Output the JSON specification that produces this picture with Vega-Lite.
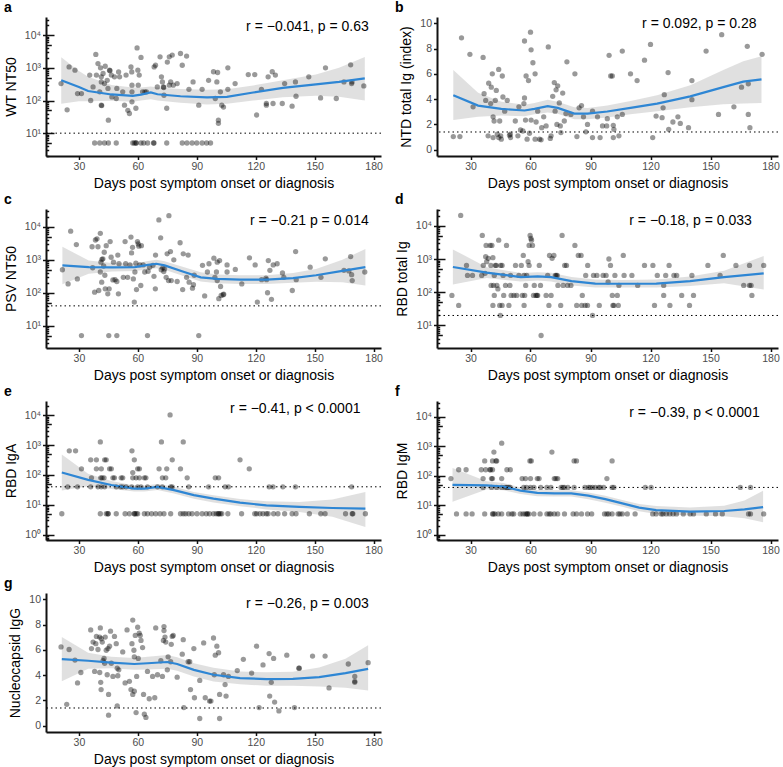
{
"$schema":"https://vega.github.io/schema/vega-lite/v6.json",
"padding":{"left":4,"top":0,"right":2,"bottom":2},
"background":"white",
"config":{
 "view":{"stroke":null},
 "font":"Liberation Sans",
 "axis":{"grid":false,"domain":true,"ticks":true,"labelFlush":false,"labelOverlap":false,"tickSize":3.5,"tickColor":"#111111","domainColor":"#111111","domainWidth":2,"tickWidth":1.5,"labelColor":"#4d4d4d","labelFontSize":10.5,"titleFontSize":14,"titleFontWeight":"normal","titleColor":"#000000","labelPadding":2,"labelFont":"Liberation Sans","titleFont":"Liberation Sans","zindex":1},
 "axisX":{"titlePadding":4},
 "axisY":{"titlePadding":6},
 "title":{"font":"Liberation Sans","fontSize":14,"fontWeight":"bold","anchor":"start","frame":"group","offset":2,"baseline":"alphabetic","color":"#000000"},
 "text":{"font":"Liberation Sans"}
},
"datasets":{
"a":[{"d":20.9,"v":330},{"d":24,"v":52},{"d":25,"v":1070},{"d":28,"v":850},{"d":29.3,"v":163},{"d":31.3,"v":163},{"d":35.5,"v":600},{"d":36,"v":100},{"d":37.2,"v":260},{"d":38.6,"v":2570},{"d":38.9,"v":600},{"d":39.7,"v":1350},{"d":40.6,"v":185},{"d":41,"v":1000},{"d":41.4,"v":370},{"d":41.4,"v":72},{"d":41.6,"v":70},{"d":41.4,"v":530},{"d":42.3,"v":670},{"d":43,"v":330},{"d":43.4,"v":1120},{"d":44.4,"v":415},{"d":44.8,"v":234},{"d":45,"v":25},{"d":45.6,"v":850},{"d":45.8,"v":820},{"d":46.5,"v":600},{"d":46.8,"v":129},{"d":48.1,"v":530},{"d":49,"v":115},{"d":49.3,"v":234},{"d":50.7,"v":530},{"d":50.2,"v":750},{"d":52.3,"v":185},{"d":53.2,"v":72},{"d":54,"v":600},{"d":54.9,"v":50},{"d":55.7,"v":40},{"d":56.5,"v":1070},{"d":56.9,"v":750},{"d":57,"v":295},{"d":57,"v":185},{"d":57,"v":91},{"d":59,"v":58},{"d":59.6,"v":4060},{"d":60,"v":850},{"d":60.2,"v":295},{"d":60.7,"v":600},{"d":61.6,"v":2080},{"d":62.4,"v":185},{"d":63.6,"v":185},{"d":64.4,"v":185},{"d":68.3,"v":1070},{"d":69,"v":1200},{"d":69.9,"v":260},{"d":71.3,"v":2180},{"d":72,"v":530},{"d":72.5,"v":370},{"d":73,"v":260},{"d":73.2,"v":250},{"d":73.3,"v":145},{"d":74.7,"v":58},{"d":75,"v":1500},{"d":76,"v":2180},{"d":76,"v":295},{"d":76.7,"v":370},{"d":77.5,"v":2450},{"d":78,"v":295},{"d":80,"v":330},{"d":81.7,"v":2750},{"d":82.6,"v":1200},{"d":84.8,"v":2300},{"d":86,"v":220},{"d":88.1,"v":370},{"d":91,"v":72},{"d":92.7,"v":220},{"d":96,"v":415},{"d":98.5,"v":760},{"d":100.2,"v":370},{"d":99.4,"v":115},{"d":100.6,"v":720},{"d":101,"v":25},{"d":101,"v":20},{"d":102,"v":185},{"d":102.7,"v":72},{"d":103.6,"v":63},{"d":105.8,"v":220},{"d":105.8,"v":1000},{"d":109.5,"v":330},{"d":116.2,"v":620},{"d":119.5,"v":620},{"d":120.4,"v":36},{"d":122.9,"v":220},{"d":125.4,"v":81},{"d":125.4,"v":72},{"d":126.3,"v":530},{"d":128.4,"v":760},{"d":128.8,"v":81},{"d":130,"v":600},{"d":133.5,"v":81},{"d":134.7,"v":330},{"d":138.5,"v":67},{"d":140.2,"v":370},{"d":140.5,"v":135},{"d":147,"v":530},{"d":153,"v":120},{"d":155.5,"v":1000},{"d":161,"v":115},{"d":164.9,"v":370},{"d":168.3,"v":1240},{"d":168.8,"v":330},{"d":169,"v":370},{"d":175,"v":280},
{"d":38,"v":5},{"d":40.6,"v":5},{"d":43,"v":5},{"d":45,"v":5},{"d":49,"v":5},{"d":57.4,"v":5},{"d":58.2,"v":5},{"d":59,"v":5},{"d":59.2,"v":5},{"d":61.6,"v":5},{"d":63,"v":5},{"d":65,"v":5},{"d":68,"v":5},{"d":68.2,"v":5},{"d":74.7,"v":5},{"d":82.6,"v":5},{"d":85,"v":5},{"d":87.6,"v":5},{"d":90,"v":5},{"d":92.7,"v":5},{"d":95,"v":5},{"d":97,"v":5}],
"b":[{"d":21.4,"v":1.04},{"d":24.7,"v":1.04},{"d":25.5,"v":8.85},{"d":29.7,"v":7.55},{"d":31.3,"v":3.39},{"d":36.3,"v":7.3},{"d":36.8,"v":4.43},{"d":37.6,"v":3.9},{"d":38.8,"v":1.1},{"d":39.1,"v":5.26},{"d":40.1,"v":3.65},{"d":40.4,"v":4.95},{"d":40.9,"v":6.0},{"d":41.3,"v":2.6},{"d":41.3,"v":0.96},{"d":41.8,"v":2.27},{"d":42.4,"v":3.9},{"d":42.9,"v":4.69},{"d":43.4,"v":1.22},{"d":44.1,"v":6.35},{"d":44.1,"v":0.96},{"d":44.6,"v":2.27},{"d":45.1,"v":1.1},{"d":45.4,"v":0.83},{"d":45.9,"v":5.83},{"d":46.2,"v":4.17},{"d":47.1,"v":3.05},{"d":48.4,"v":3.9},{"d":49.5,"v":1.15},{"d":49.9,"v":1.22},{"d":50,"v":0.96},{"d":52.4,"v":2.27},{"d":53.7,"v":1.1},{"d":54.2,"v":3.39},{"d":55,"v":1.56},{"d":56.2,"v":1.48},{"d":56.7,"v":3.65},{"d":57,"v":8.6},{"d":57,"v":4.09},{"d":57.5,"v":2.34},{"d":57.8,"v":5.83},{"d":58.3,"v":0.83},{"d":59,"v":5.47},{"d":59.5,"v":1.3},{"d":60,"v":9.3},{"d":60.3,"v":7.9},{"d":60.3,"v":2.34},{"d":61.2,"v":6.88},{"d":62.3,"v":6.0},{"d":62.3,"v":0.83},{"d":62.8,"v":2.19},{"d":63.6,"v":3.05},{"d":64.5,"v":0.83},{"d":65.3,"v":0.78},{"d":65.6,"v":1.74},{"d":66.6,"v":2.6},{"d":67.8,"v":1.88},{"d":68.9,"v":8.13},{"d":69.9,"v":0.89},{"d":70.3,"v":1.1},{"d":71.1,"v":4.22},{"d":71.9,"v":5.31},{"d":72.3,"v":3.05},{"d":72.8,"v":4.74},{"d":73.2,"v":2.0},{"d":73.6,"v":5.05},{"d":74.4,"v":3.7},{"d":74.9,"v":1.88},{"d":75.2,"v":1.35},{"d":76.1,"v":4.48},{"d":76.9,"v":2.27},{"d":77.7,"v":2.86},{"d":78.2,"v":6.95},{"d":80.2,"v":2.79},{"d":82.2,"v":6.0},{"d":83.2,"v":1.04},{"d":84.3,"v":3.31},{"d":85.5,"v":3.49},{"d":86.5,"v":2.6},{"d":87.7,"v":1.41},{"d":88.5,"v":2.0},{"d":91,"v":0.96},{"d":91,"v":3.05},{"d":93.5,"v":2.6},{"d":94.8,"v":0.96},{"d":96,"v":1.88},{"d":98.1,"v":1.88},{"d":98.4,"v":2.45},{"d":99.3,"v":7.47},{"d":100.1,"v":5.83},{"d":100.9,"v":5.83},{"d":101.4,"v":0.96},{"d":101.4,"v":1.93},{"d":101.7,"v":1.61},{"d":103.4,"v":2.6},{"d":104.2,"v":1.1},{"d":105.9,"v":7.8},{"d":105.9,"v":2.79},{"d":110,"v":6.0},{"d":113.3,"v":5.47},{"d":117,"v":7.08},{"d":120,"v":8.33},{"d":121.1,"v":0.96},{"d":122.8,"v":2.66},{"d":125.8,"v":2.53},{"d":126.3,"v":3.31},{"d":126.9,"v":4.35},{"d":128.8,"v":6.1},{"d":129.1,"v":1.61},{"d":131.2,"v":2.19},{"d":133.7,"v":2.6},{"d":134.9,"v":2.08},{"d":139,"v":1.74},{"d":140.7,"v":5.47},{"d":140.7,"v":3.96},{"d":147.8,"v":7.8},{"d":154,"v":2.79},{"d":155.6,"v":9.1},{"d":161.7,"v":3.39},{"d":165.5,"v":4.95},{"d":168.4,"v":8.18},{"d":168.9,"v":2.79},{"d":168.9,"v":5.21},{"d":169.7,"v":1.74},{"d":175.8,"v":7.55}],
"c":[{"d":21.6,"v":500},{"d":24.5,"v":186},{"d":25.8,"v":7400},{"d":28.7,"v":2900},{"d":29.2,"v":263},{"d":31.3,"v":5},{"d":36.7,"v":2500},{"d":37,"v":575},{"d":38,"v":104},{"d":38.4,"v":4000},{"d":39.2,"v":4350},{"d":39.7,"v":2500},{"d":40.1,"v":117},{"d":40.9,"v":6400},{"d":40.9,"v":427},{"d":41.2,"v":850},{"d":41.6,"v":210},{"d":41.7,"v":1030},{"d":42.2,"v":1070},{"d":42.6,"v":650},{"d":42.9,"v":1700},{"d":43.2,"v":340},{"d":43.4,"v":132},{"d":43.9,"v":2700},{"d":44.7,"v":93},{"d":45.2,"v":5},{"d":45.4,"v":132},{"d":45.9,"v":3600},{"d":46.4,"v":1200},{"d":47.3,"v":245},{"d":47.6,"v":850},{"d":48.4,"v":250},{"d":49.3,"v":220},{"d":49.3,"v":5},{"d":49.8,"v":1400},{"d":50.1,"v":93},{"d":50.4,"v":760},{"d":52.6,"v":295},{"d":53.5,"v":3600},{"d":53.8,"v":760},{"d":54.8,"v":295},{"d":56,"v":700},{"d":56.5,"v":4900},{"d":56.8,"v":1620},{"d":57.3,"v":2400},{"d":57.7,"v":263},{"d":58.2,"v":52},{"d":58.5,"v":427},{"d":59,"v":790},{"d":59.3,"v":125},{"d":59.8,"v":3600},{"d":60.2,"v":3050},{"d":60.5,"v":2600},{"d":61,"v":700},{"d":61.5,"v":166},{"d":61.8,"v":2700},{"d":62.7,"v":700},{"d":63.5,"v":427},{"d":64.9,"v":5},{"d":65.2,"v":450},{"d":66,"v":600},{"d":67.7,"v":680},{"d":68.2,"v":315},{"d":68.9,"v":132},{"d":69,"v":1400},{"d":70.7,"v":16300},{"d":71.6,"v":4650},{"d":71.9,"v":500},{"d":72.7,"v":570},{"d":73.2,"v":440},{"d":73.6,"v":530},{"d":74.4,"v":295},{"d":74.9,"v":1520},{"d":75.6,"v":235},{"d":75.8,"v":21900},{"d":76.6,"v":1780},{"d":77,"v":235},{"d":78.3,"v":1000},{"d":80,"v":220},{"d":81.5,"v":3300},{"d":82.8,"v":125},{"d":83.1,"v":1520},{"d":84.8,"v":295},{"d":85.6,"v":1400},{"d":86.1,"v":210},{"d":87.8,"v":138},{"d":88.3,"v":175},{"d":88.7,"v":340},{"d":91,"v":5},{"d":92.9,"v":680},{"d":94,"v":80},{"d":95.4,"v":427},{"d":96.2,"v":760},{"d":98.7,"v":1120},{"d":99.2,"v":295},{"d":100,"v":427},{"d":100.4,"v":235},{"d":100.4,"v":850},{"d":101.2,"v":66},{"d":101.6,"v":950},{"d":102.1,"v":155},{"d":102.4,"v":83},{"d":103.4,"v":87},{"d":103.7,"v":90},{"d":105.4,"v":700},{"d":105.4,"v":427},{"d":109.6,"v":510},{"d":112.9,"v":186},{"d":116.8,"v":1150},{"d":119.7,"v":700},{"d":120.8,"v":52},{"d":123,"v":250},{"d":125.2,"v":280},{"d":125.5,"v":250},{"d":126,"v":100},{"d":126.4,"v":950},{"d":127.2,"v":480},{"d":128,"v":63},{"d":128.9,"v":700},{"d":130.9,"v":760},{"d":133.6,"v":400},{"d":134.3,"v":295},{"d":138.6,"v":117},{"d":140.3,"v":1780},{"d":140.6,"v":250},{"d":147.7,"v":600},{"d":153.2,"v":295},{"d":155.4,"v":1070},{"d":164.9,"v":480},{"d":167.4,"v":460},{"d":168.3,"v":1260},{"d":168.8,"v":355},{"d":169.1,"v":235},{"d":175.5,"v":427}],
"d":[{"d":20.7,"v":80},{"d":24.1,"v":40},{"d":25.1,"v":20480},{"d":28,"v":640},{"d":28.5,"v":320},{"d":31,"v":320},{"d":35.6,"v":320},{"d":35.9,"v":5120},{"d":36.4,"v":640},{"d":37.3,"v":370},{"d":37.6,"v":1170},{"d":37.8,"v":2560},{"d":38.1,"v":830},{"d":38.9,"v":1050},{"d":39.8,"v":2560},{"d":40.2,"v":640},{"d":40.3,"v":160},{"d":40.7,"v":2560},{"d":41.2,"v":40},{"d":41.2,"v":1100},{"d":41.5,"v":160},{"d":41.9,"v":320},{"d":41.9,"v":80},{"d":42.4,"v":640},{"d":42.9,"v":640},{"d":43.2,"v":160},{"d":43.7,"v":126},{"d":44.1,"v":3700},{"d":44.6,"v":40},{"d":44.9,"v":20},{"d":45.1,"v":640},{"d":45.8,"v":640},{"d":45.8,"v":40},{"d":46.3,"v":320},{"d":46.6,"v":80},{"d":47.5,"v":160},{"d":48,"v":2560},{"d":49.2,"v":40},{"d":49.7,"v":160},{"d":50,"v":320},{"d":50.3,"v":80},{"d":51.7,"v":80},{"d":52.5,"v":640},{"d":53.1,"v":80},{"d":54.2,"v":320},{"d":55.4,"v":640},{"d":55.9,"v":80},{"d":56.4,"v":1280},{"d":56.8,"v":320},{"d":56.8,"v":40},{"d":57.1,"v":80},{"d":57.6,"v":160},{"d":58.1,"v":320},{"d":58.8,"v":830},{"d":59.3,"v":640},{"d":59.3,"v":2560},{"d":59.8,"v":5120},{"d":60.2,"v":4150},{"d":60.5,"v":3700},{"d":61,"v":2560},{"d":61.5,"v":80},{"d":61.9,"v":160},{"d":62.7,"v":80},{"d":63.2,"v":80},{"d":63.6,"v":80},{"d":64.4,"v":640},{"d":65,"v":160},{"d":65.3,"v":5},{"d":67.8,"v":80},{"d":68.6,"v":320},{"d":69.2,"v":40},{"d":69.5,"v":1280},{"d":70.3,"v":80},{"d":70.8,"v":1050},{"d":71.7,"v":1280},{"d":72.4,"v":320},{"d":72.9,"v":320},{"d":73.4,"v":320},{"d":73.7,"v":160},{"d":75.1,"v":40},{"d":75.8,"v":5120},{"d":76.3,"v":160},{"d":77.1,"v":640},{"d":78,"v":640},{"d":78.5,"v":160},{"d":80.2,"v":160},{"d":82.2,"v":2560},{"d":83.1,"v":40},{"d":83.9,"v":1280},{"d":85.3,"v":1280},{"d":85.6,"v":40},{"d":85.9,"v":80},{"d":87.3,"v":40},{"d":87.6,"v":320},{"d":88.5,"v":40},{"d":88.6,"v":640},{"d":91,"v":20},{"d":91.5,"v":320},{"d":93.2,"v":320},{"d":94.4,"v":40},{"d":96.3,"v":320},{"d":97.8,"v":320},{"d":98.8,"v":205},{"d":99.2,"v":1000},{"d":100,"v":640},{"d":100.9,"v":80},{"d":101.2,"v":40},{"d":101.7,"v":40},{"d":102.2,"v":320},{"d":103.4,"v":80},{"d":103.9,"v":40},{"d":104.2,"v":160},{"d":106.4,"v":1280},{"d":106.8,"v":320},{"d":110.7,"v":320},{"d":113.6,"v":160},{"d":117,"v":640},{"d":121.2,"v":640},{"d":122,"v":40},{"d":123.4,"v":320},{"d":126.6,"v":160},{"d":126.6,"v":80},{"d":127.6,"v":320},{"d":129.3,"v":640},{"d":129.7,"v":40},{"d":131.7,"v":320},{"d":133.1,"v":320},{"d":135.6,"v":80},{"d":139.5,"v":40},{"d":140.7,"v":320},{"d":141.5,"v":80},{"d":148.7,"v":640},{"d":154.8,"v":320},{"d":156.4,"v":1280},{"d":162.7,"v":640},{"d":166.6,"v":160},{"d":169.5,"v":640},{"d":169.5,"v":160},{"d":170.3,"v":160},{"d":170.7,"v":80},{"d":176.6,"v":640}],
"e":[{"d":21.3,"v":5},{"d":40.9,"v":5},{"d":43.9,"v":5},{"d":44.8,"v":5},{"d":44.9,"v":5},{"d":49,"v":5},{"d":53.5,"v":5},{"d":55.7,"v":5},{"d":58.2,"v":5},{"d":58.3,"v":5},{"d":59.1,"v":5},{"d":59.9,"v":5},{"d":63.3,"v":5},{"d":64.9,"v":5},{"d":67,"v":5},{"d":69.1,"v":5},{"d":71.3,"v":5},{"d":73.3,"v":5},{"d":76.7,"v":5},{"d":81.7,"v":5},{"d":83.1,"v":5},{"d":84.3,"v":5},{"d":85.9,"v":5},{"d":87.6,"v":5},{"d":90.1,"v":5},{"d":92.7,"v":5},{"d":94.8,"v":5},{"d":96.5,"v":5},{"d":98.5,"v":5},{"d":99.9,"v":5},{"d":101,"v":5},{"d":101.1,"v":5},{"d":101.9,"v":5},{"d":102.7,"v":5},{"d":105.8,"v":5},{"d":112.8,"v":5},{"d":119.5,"v":5},{"d":120.4,"v":5},{"d":122.1,"v":5},{"d":123.7,"v":5},{"d":125.4,"v":5},{"d":126.3,"v":5},{"d":129.1,"v":5},{"d":131.3,"v":5},{"d":134.7,"v":5},{"d":138.5,"v":5},{"d":140.5,"v":5},{"d":147.3,"v":5},{"d":153.1,"v":5},{"d":155.3,"v":5},{"d":165.7,"v":5},{"d":169.1,"v":5},{"d":169.4,"v":5},{"d":175.8,"v":5},
{"d":24.3,"v":40},{"d":29.3,"v":40},{"d":36,"v":40},{"d":39.7,"v":40},{"d":41.4,"v":40},{"d":43.1,"v":40},{"d":49,"v":40},{"d":51.2,"v":40},{"d":52.3,"v":40},{"d":54,"v":40},{"d":56.9,"v":40},{"d":59.9,"v":40},{"d":61.6,"v":40},{"d":64.9,"v":40},{"d":70,"v":40},{"d":72.5,"v":40},{"d":76.7,"v":40},{"d":77.5,"v":40},{"d":85.9,"v":40},{"d":96,"v":40},{"d":104.4,"v":40},{"d":106.1,"v":40},{"d":126.8,"v":40},{"d":128.8,"v":40},{"d":133.8,"v":40},{"d":140.2,"v":40},{"d":168.8,"v":40},
{"d":36.4,"v":80},{"d":41.1,"v":80},{"d":41.8,"v":80},{"d":42.8,"v":80},{"d":47.3,"v":80},{"d":48.1,"v":80},{"d":51.5,"v":80},{"d":52.3,"v":80},{"d":57.4,"v":80},{"d":59.1,"v":80},{"d":60.8,"v":80},{"d":63.3,"v":80},{"d":64.1,"v":80},{"d":72.5,"v":80},{"d":74.2,"v":80},{"d":85.1,"v":80},{"d":99.4,"v":80},{"d":101.1,"v":80},
{"d":31.3,"v":160},{"d":38.9,"v":160},{"d":41.4,"v":160},{"d":45.6,"v":160},{"d":46.5,"v":160},{"d":57.4,"v":120},{"d":59.9,"v":160},{"d":60.8,"v":160},{"d":70.8,"v":160},{"d":74.7,"v":160},{"d":81.7,"v":160},{"d":116.7,"v":160},
{"d":36,"v":320},{"d":38.9,"v":320},{"d":43.1,"v":320},{"d":43.9,"v":320},{"d":58.2,"v":320},{"d":77.5,"v":320},{"d":112,"v":320},
{"d":25.1,"v":640},{"d":28.3,"v":640},{"d":57,"v":640},{"d":40.9,"v":1280},{"d":72,"v":1280},{"d":83.1,"v":1280},{"d":76.4,"v":10240}],
"f":[{"d":23,"v":5},{"d":27.8,"v":5},{"d":30.8,"v":5},{"d":37.1,"v":5},{"d":41,"v":5},{"d":41.4,"v":5},{"d":42.2,"v":5},{"d":43.9,"v":5},{"d":45.6,"v":5},{"d":49,"v":5},{"d":50.7,"v":5},{"d":51.6,"v":5},{"d":54.9,"v":5},{"d":56.3,"v":5},{"d":57.5,"v":5},{"d":58.3,"v":5},{"d":58.4,"v":5},{"d":59.2,"v":5},{"d":61.7,"v":5},{"d":64.8,"v":5},{"d":68.2,"v":5},{"d":69.4,"v":5},{"d":70.2,"v":5},{"d":71.9,"v":5},{"d":73.6,"v":5},{"d":77,"v":5},{"d":81.3,"v":5},{"d":83,"v":5},{"d":85.5,"v":5},{"d":88.5,"v":5},{"d":90.6,"v":5},{"d":97,"v":5},{"d":98.2,"v":5},{"d":99.1,"v":5},{"d":100.8,"v":5},{"d":103.8,"v":5},{"d":104.7,"v":5},{"d":105.9,"v":5},{"d":108.4,"v":5},{"d":112.3,"v":5},{"d":121.1,"v":5},{"d":122.8,"v":5},{"d":125.4,"v":5},{"d":126.2,"v":5},{"d":127.9,"v":5},{"d":129.6,"v":5},{"d":131.3,"v":5},{"d":133,"v":5},{"d":136.4,"v":5},{"d":139.8,"v":5},{"d":141.5,"v":5},{"d":147.9,"v":5},{"d":152.5,"v":5},{"d":155.9,"v":5},{"d":169,"v":5},{"d":170,"v":5},{"d":176.6,"v":5},
{"d":36.3,"v":40},{"d":40.5,"v":40},{"d":43.1,"v":40},{"d":45.6,"v":40},{"d":47.3,"v":40},{"d":48.1,"v":40},{"d":49,"v":40},{"d":49.8,"v":40},{"d":56.6,"v":40},{"d":58,"v":40},{"d":60,"v":40},{"d":61.7,"v":40},{"d":65.1,"v":40},{"d":68.2,"v":40},{"d":70.2,"v":40},{"d":75.3,"v":40},{"d":76.2,"v":40},{"d":77,"v":40},{"d":78.7,"v":40},{"d":81.8,"v":40},{"d":87.2,"v":40},{"d":88.9,"v":40},{"d":89.8,"v":40},{"d":91,"v":40},{"d":92.4,"v":40},{"d":94.1,"v":40},{"d":94.9,"v":40},{"d":96.6,"v":40},{"d":100.8,"v":40},{"d":101.7,"v":40},{"d":117.4,"v":40},{"d":120.3,"v":40},{"d":164.9,"v":40},{"d":170,"v":40},
{"d":20.2,"v":80},{"d":36.3,"v":80},{"d":40.5,"v":80},{"d":41,"v":80},{"d":45.6,"v":80},{"d":55.8,"v":80},{"d":57.5,"v":80},{"d":60,"v":80},{"d":63.4,"v":80},{"d":64.3,"v":80},{"d":71.9,"v":80},{"d":72.7,"v":80},{"d":73.6,"v":80},{"d":98.2,"v":80},
{"d":24.1,"v":160},{"d":27.8,"v":160},{"d":35.4,"v":160},{"d":37.6,"v":160},{"d":39.7,"v":160},{"d":40,"v":160},{"d":41,"v":160},{"d":48.2,"v":160},{"d":49.9,"v":160},
{"d":37.1,"v":320},{"d":41,"v":320},{"d":42.7,"v":320},{"d":43.1,"v":320},{"d":59.7,"v":320},{"d":60.4,"v":320},{"d":81.8,"v":320},{"d":83,"v":320},{"d":100.8,"v":320},
{"d":41.7,"v":640},{"d":70.7,"v":640},{"d":45.6,"v":1280}],
"g":[{"d":20.9,"v":6.23},{"d":23.8,"v":1.69},{"d":25,"v":6.03},{"d":28,"v":5.19},{"d":29.3,"v":3.38},{"d":31,"v":4.21},{"d":36,"v":7.58},{"d":36.4,"v":6.1},{"d":37.2,"v":6.62},{"d":38,"v":4.29},{"d":38.6,"v":6.49},{"d":38.9,"v":7.06},{"d":39.7,"v":6.03},{"d":40.6,"v":7.01},{"d":40.6,"v":4.21},{"d":40.9,"v":7.74},{"d":41.1,"v":3.43},{"d":41.3,"v":2.86},{"d":41.4,"v":6.88},{"d":41.9,"v":6.62},{"d":42.3,"v":5.14},{"d":42.8,"v":5.32},{"d":43.1,"v":4.94},{"d":43.4,"v":7.01},{"d":43.9,"v":5.97},{"d":44.4,"v":4.03},{"d":44.8,"v":6.1},{"d":45.1,"v":0.83},{"d":45.1,"v":2.47},{"d":45.6,"v":6.29},{"d":46.1,"v":7.48},{"d":46.5,"v":4.94},{"d":47.3,"v":3.9},{"d":48.1,"v":7.06},{"d":49,"v":6.49},{"d":49.5,"v":4.55},{"d":49.5,"v":1.56},{"d":49.8,"v":3.95},{"d":50.3,"v":4.42},{"d":52.3,"v":5.84},{"d":53.5,"v":3.38},{"d":54.5,"v":7.58},{"d":55.7,"v":3.51},{"d":56.5,"v":2.86},{"d":57,"v":6.49},{"d":57.4,"v":2.47},{"d":57.4,"v":8.36},{"d":58,"v":5.97},{"d":58.2,"v":5.45},{"d":58.2,"v":2.73},{"d":58.7,"v":7.14},{"d":59.1,"v":1.04},{"d":59.4,"v":3.9},{"d":59.9,"v":7.79},{"d":60.2,"v":5.32},{"d":60.7,"v":7.32},{"d":61.2,"v":7.14},{"d":61.6,"v":6.75},{"d":62.4,"v":6.18},{"d":62.9,"v":2.47},{"d":63.3,"v":0.91},{"d":64.1,"v":0.65},{"d":64.9,"v":4.29},{"d":65.8,"v":2.13},{"d":67.5,"v":3.9},{"d":68.6,"v":2.21},{"d":69.1,"v":7.74},{"d":70,"v":4.03},{"d":71.7,"v":5.14},{"d":72.5,"v":3.9},{"d":73,"v":6.75},{"d":73.3,"v":7.84},{"d":73.3,"v":7.53},{"d":73.8,"v":7.01},{"d":74.2,"v":6.62},{"d":75,"v":4.42},{"d":75.4,"v":5.45},{"d":76.7,"v":5.06},{"d":77,"v":6.44},{"d":77.5,"v":7.06},{"d":78,"v":7.14},{"d":80,"v":3.84},{"d":82.6,"v":5.66},{"d":83.1,"v":6.81},{"d":83.4,"v":1.43},{"d":85.6,"v":5.06},{"d":86.4,"v":5.06},{"d":86.8,"v":2.86},{"d":88.5,"v":6.1},{"d":88.8,"v":2.21},{"d":91.5,"v":3.58},{"d":91.5,"v":0.57},{"d":93.5,"v":6.55},{"d":94.3,"v":2.21},{"d":96.5,"v":1.95},{"d":97.2,"v":1.95},{"d":98.5,"v":6.94},{"d":98.9,"v":4.03},{"d":99.4,"v":5.58},{"d":100.2,"v":6.29},{"d":101.1,"v":5.77},{"d":101.6,"v":0.57},{"d":101.6,"v":2.47},{"d":103.6,"v":4.03},{"d":104.4,"v":3.25},{"d":104.9,"v":2.34},{"d":106.1,"v":3.9},{"d":110.6,"v":4.36},{"d":113.7,"v":5.25},{"d":117.9,"v":4.16},{"d":120.4,"v":6.29},{"d":121.7,"v":1.43},{"d":123.7,"v":4.81},{"d":126.8,"v":5.71},{"d":127.1,"v":2.34},{"d":127.9,"v":3.43},{"d":129.1,"v":5.32},{"d":129.6,"v":1.87},{"d":131.8,"v":1.17},{"d":135.8,"v":5.58},{"d":139.7,"v":1.43},{"d":141.9,"v":4.55},{"d":142.2,"v":4.55},{"d":148.9,"v":5.51},{"d":155.3,"v":5.51},{"d":157.3,"v":2.99},{"d":167.1,"v":4.88},{"d":170.4,"v":3.9},{"d":170.4,"v":3.51},{"d":170.4,"v":3.43},{"d":177.2,"v":4.99}],
"sa":[{"d":21,"fit":415,"lo":80,"hi":2100},{"d":30,"fit":258,"lo":95,"hi":800},{"d":34.7,"fit":195,"lo":95,"hi":530},{"d":46.5,"fit":153,"lo":98,"hi":300},{"d":57.4,"fit":138,"lo":92,"hi":250},{"d":61.6,"fit":152,"lo":100,"hi":250},{"d":66.6,"fit":176,"lo":110,"hi":270},{"d":70,"fit":155,"lo":100,"hi":250},{"d":81.7,"fit":135,"lo":85,"hi":225},{"d":95.2,"fit":124,"lo":75,"hi":215},{"d":105.3,"fit":130,"lo":80,"hi":220},{"d":118.7,"fit":176,"lo":100,"hi":290},{"d":133.8,"fit":245,"lo":125,"hi":420},{"d":150.6,"fit":310,"lo":140,"hi":620},{"d":162.4,"fit":370,"lo":130,"hi":1000},{"d":175.5,"fit":475,"lo":100,"hi":2150}],
"sb":[{"d":21.4,"fit":4.3,"lo":2.35,"hi":6.3},{"d":33.8,"fit":3.49,"lo":2.6,"hi":4.5},{"d":45.4,"fit":3.23,"lo":2.7,"hi":3.8},{"d":57,"fit":3.1,"lo":2.65,"hi":3.55},{"d":62,"fit":3.23,"lo":2.8,"hi":3.7},{"d":68.6,"fit":3.44,"lo":2.95,"hi":3.95},{"d":73.6,"fit":3.31,"lo":2.85,"hi":3.8},{"d":81.9,"fit":2.86,"lo":2.4,"hi":3.35},{"d":88.5,"fit":2.86,"lo":2.4,"hi":3.3},{"d":98.4,"fit":3.02,"lo":2.55,"hi":3.5},{"d":110,"fit":3.31,"lo":2.8,"hi":3.85},{"d":123.3,"fit":3.65,"lo":3.05,"hi":4.3},{"d":139.9,"fit":4.22,"lo":3.35,"hi":5.1},{"d":156.4,"fit":4.95,"lo":3.6,"hi":6.3},{"d":166.4,"fit":5.39,"lo":3.65,"hi":7.0},{"d":175.5,"fit":5.57,"lo":3.7,"hi":7.4}],
"sc":[{"d":21.6,"fit":680,"lo":180,"hi":2500},{"d":35,"fit":600,"lo":380,"hi":950},{"d":46.8,"fit":590,"lo":440,"hi":800},{"d":58.5,"fit":600,"lo":460,"hi":780},{"d":65.2,"fit":700,"lo":520,"hi":920},{"d":69.4,"fit":760,"lo":560,"hi":1000},{"d":73.6,"fit":680,"lo":500,"hi":900},{"d":83.6,"fit":427,"lo":320,"hi":600},{"d":92,"fit":295,"lo":220,"hi":420},{"d":100.4,"fit":263,"lo":195,"hi":360},{"d":112.1,"fit":250,"lo":185,"hi":340},{"d":125.5,"fit":250,"lo":185,"hi":340},{"d":139,"fit":280,"lo":200,"hi":400},{"d":150.7,"fit":340,"lo":215,"hi":530},{"d":164.1,"fit":460,"lo":210,"hi":1000},{"d":175.8,"fit":600,"lo":165,"hi":2150}],
"sd":[{"d":21.2,"fit":575,"lo":170,"hi":1950},{"d":38.1,"fit":390,"lo":270,"hi":570},{"d":55.1,"fit":285,"lo":210,"hi":380},{"d":63.6,"fit":300,"lo":225,"hi":400},{"d":70.3,"fit":285,"lo":210,"hi":385},{"d":80.5,"fit":215,"lo":160,"hi":290},{"d":92.4,"fit":183,"lo":140,"hi":240},{"d":105.9,"fit":180,"lo":138,"hi":235},{"d":122.9,"fit":183,"lo":140,"hi":240},{"d":139.8,"fit":215,"lo":155,"hi":300},{"d":156.8,"fit":285,"lo":185,"hi":440},{"d":176.6,"fit":370,"lo":120,"hi":1230}],
"se":[{"d":21.3,"fit":120,"lo":30,"hi":480},{"d":34.7,"fit":68,"lo":42,"hi":110},{"d":46.5,"fit":46,"lo":34,"hi":62},{"d":58.2,"fit":35,"lo":28,"hi":44},{"d":63.3,"fit":35,"lo":28,"hi":44},{"d":70,"fit":40,"lo":31,"hi":50},{"d":78.4,"fit":31,"lo":24,"hi":40},{"d":88.5,"fit":21,"lo":16,"hi":27},{"d":98.5,"fit":16,"lo":12,"hi":21},{"d":112,"fit":11.8,"lo":9,"hi":15.5},{"d":125.4,"fit":9.6,"lo":7,"hi":13},{"d":142.2,"fit":8.5,"lo":5.7,"hi":12.5},{"d":159,"fit":7.8,"lo":4,"hi":15},{"d":175.8,"fit":7.4,"lo":1.8,"hi":27}],
"sf":[{"d":21,"fit":49,"lo":13,"hi":182},{"d":38,"fit":47,"lo":34,"hi":65},{"d":46.5,"fit":43,"lo":32,"hi":57},{"d":55,"fit":31,"lo":24,"hi":40},{"d":63.4,"fit":26,"lo":20,"hi":33},{"d":71.9,"fit":25,"lo":19.5,"hi":32},{"d":80.4,"fit":25,"lo":19.5,"hi":32},{"d":88.9,"fit":21,"lo":16,"hi":27},{"d":97.4,"fit":16,"lo":12,"hi":21},{"d":105.9,"fit":11.5,"lo":8.8,"hi":15},{"d":114.3,"fit":8.2,"lo":6.2,"hi":11},{"d":122.8,"fit":6.8,"lo":5,"hi":9.3},{"d":139.8,"fit":6,"lo":4.4,"hi":8.3},{"d":156.8,"fit":6.3,"lo":4.2,"hi":9.5},{"d":167,"fit":7.2,"lo":3.6,"hi":14.5},{"d":176.3,"fit":8.5,"lo":2.6,"hi":31}],
"sg":[{"d":21.3,"fit":5.27,"lo":3.51,"hi":7.01},{"d":34.7,"fit":5.14,"lo":4.5,"hi":5.78},{"d":46.5,"fit":4.99,"lo":4.55,"hi":5.45},{"d":58.2,"fit":4.88,"lo":4.42,"hi":5.35},{"d":65,"fit":4.94,"lo":4.45,"hi":5.45},{"d":75,"fit":5.04,"lo":4.5,"hi":5.6},{"d":80,"fit":4.88,"lo":4.35,"hi":5.42},{"d":88.5,"fit":4.42,"lo":3.9,"hi":4.95},{"d":98.5,"fit":4.03,"lo":3.5,"hi":4.58},{"d":112,"fit":3.77,"lo":3.27,"hi":4.28},{"d":125.4,"fit":3.69,"lo":3.17,"hi":4.22},{"d":138.9,"fit":3.71,"lo":3.16,"hi":4.26},{"d":152.3,"fit":3.84,"lo":3.1,"hi":4.6},{"d":165.7,"fit":4.16,"lo":3.0,"hi":5.3},{"d":177.2,"fit":4.49,"lo":2.78,"hi":6.36}]
},
"columns":2,
"bounds":"flush",
"spacing":{"row":53,"column":56},
"concat":[
{"width":335,"height":139,"title":{"text":"a","dx":-42},"resolve":{"axis":{"y":"independent"}},
 "layer":[
  {"data":{"name":"sa"},"mark":{"type":"area","color":"#999999","opacity":0.3},
   "encoding":{"x":{"field":"d","type":"quantitative","scale":{"domain":[13.25,183.75],"nice":false,"zero":false},"axis":{"values":[30,60,90,120,150,180],"title":"Days post symptom onset or diagnosis"}},
    "y":{"field":"lo","type":"quantitative","scale":{"type":"log","domain":[2,36000],"nice":false},"axis":{"orient":"left","values":[10,100,1000,10000],"labelExpr":"datum.value>=10000?'10⁴':datum.value>=1000?'10³':datum.value>=100?'10²':datum.value>=10?'10¹':'10⁰'","title":"WT NT50"}},
    "y2":{"field":"hi"}}},
  {"data":{"name":"a"},"mark":{"type":"circle","size":28,"color":"#000000","opacity":0.4},
   "encoding":{"x":{"field":"d","type":"quantitative"},"y":{"field":"v","type":"quantitative","axis":{"orient":"left","values":[10,100,1000,10000],"labels":false,"domain":false,"title":null,"tickSize":-8}}}},
  {"data":{"name":"sa"},"mark":{"type":"line","color":"#2E86D4","strokeWidth":2.2},
   "encoding":{"x":{"field":"d","type":"quantitative"},"y":{"field":"fit","type":"quantitative","axis":{"orient":"left","values":[5,50,500,5000],"labels":false,"domain":false,"title":null,"tickSize":-5.3}}}},
  {"data":{"values":[{}]},"mark":{"type":"rule","strokeDash":[1.5,3],"color":"#000000"},
   "encoding":{"y":{"datum":10,"type":"quantitative","axis":{"orient":"left","values":[2,3,4,6,7,8,9,20,30,40,60,70,80,90,200,300,400,600,700,800,900,2000,3000,4000,6000,7000,8000,9000,20000,30000],"labels":false,"domain":false,"title":null,"tickSize":-2.7}}}},
  {"data":{"values":[{}]},"mark":{"type":"text","align":"right","baseline":"middle","fontSize":14},
   "encoding":{"x":{"datum":177.5,"type":"quantitative"},"y":{"datum":17800,"type":"quantitative","axis":null},"text":{"value":"r  = −0.041, p = 0.63"}}}
 ]},
{"width":341,"height":139,"title":{"text":"b","dx":-42},"resolve":{"axis":{"y":"independent"}},
 "layer":[
  {"data":{"name":"sb"},"mark":{"type":"area","color":"#999999","opacity":0.3},
   "encoding":{"x":{"field":"d","type":"quantitative","scale":{"domain":[13.25,183.75],"nice":false,"zero":false},"axis":{"values":[30,60,90,120,150,180],"title":"Days post symptom onset or diagnosis"}},
    "y":{"field":"lo","type":"quantitative","scale":{"domain":[-0.5,10.5],"nice":false,"zero":false},"axis":{"orient":"left","values":[0,2,4,6,8,10],"title":"NTD total Ig (index)"}},
    "y2":{"field":"hi"}}},
  {"data":{"name":"b"},"mark":{"type":"circle","size":28,"color":"#000000","opacity":0.4},
   "encoding":{"x":{"field":"d","type":"quantitative"},"y":{"field":"v","type":"quantitative","axis":null}}},
  {"data":{"name":"sb"},"mark":{"type":"line","color":"#2E86D4","strokeWidth":2.2},
   "encoding":{"x":{"field":"d","type":"quantitative"},"y":{"field":"fit","type":"quantitative","axis":null}}},
  {"data":{"values":[{}]},"mark":{"type":"rule","strokeDash":[1.5,3],"color":"#000000"},
   "encoding":{"y":{"datum":1.4,"type":"quantitative","axis":null}}},
  {"data":{"values":[{}]},"mark":{"type":"text","align":"right","baseline":"middle","fontSize":14},
   "encoding":{"x":{"datum":173,"type":"quantitative"},"y":{"datum":9.95,"type":"quantitative","axis":null},"text":{"value":"r  = 0.092, p = 0.28"}}}
 ]},
{"width":335,"height":139,"title":{"text":"c","dx":-42},"resolve":{"axis":{"y":"independent"}},
 "layer":[
  {"data":{"name":"sc"},"mark":{"type":"area","color":"#999999","opacity":0.3},
   "encoding":{"x":{"field":"d","type":"quantitative","scale":{"domain":[13.25,183.75],"nice":false,"zero":false},"axis":{"values":[30,60,90,120,150,180],"title":"Days post symptom onset or diagnosis"}},
    "y":{"field":"lo","type":"quantitative","scale":{"type":"log","domain":[2.1,35000],"nice":false},"axis":{"orient":"left","values":[10,100,1000,10000],"labelExpr":"datum.value>=10000?'10⁴':datum.value>=1000?'10³':datum.value>=100?'10²':datum.value>=10?'10¹':'10⁰'","title":"PSV NT50"}},
    "y2":{"field":"hi"}}},
  {"data":{"name":"c"},"mark":{"type":"circle","size":28,"color":"#000000","opacity":0.4},
   "encoding":{"x":{"field":"d","type":"quantitative"},"y":{"field":"v","type":"quantitative","axis":{"orient":"left","values":[10,100,1000,10000],"labels":false,"domain":false,"title":null,"tickSize":-8}}}},
  {"data":{"name":"sc"},"mark":{"type":"line","color":"#2E86D4","strokeWidth":2.2},
   "encoding":{"x":{"field":"d","type":"quantitative"},"y":{"field":"fit","type":"quantitative","axis":{"orient":"left","values":[5,50,500,5000],"labels":false,"domain":false,"title":null,"tickSize":-5.3}}}},
  {"data":{"values":[{}]},"mark":{"type":"rule","strokeDash":[1.5,3],"color":"#000000"},
   "encoding":{"y":{"datum":40,"type":"quantitative","axis":{"orient":"left","values":[3,4,6,7,8,9,20,30,40,60,70,80,90,200,300,400,600,700,800,900,2000,3000,4000,6000,7000,8000,9000,20000,30000],"labels":false,"domain":false,"title":null,"tickSize":-2.7}}}},
  {"data":{"values":[{}]},"mark":{"type":"text","align":"right","baseline":"middle","fontSize":14},
   "encoding":{"x":{"datum":177.5,"type":"quantitative"},"y":{"datum":15500,"type":"quantitative","axis":null},"text":{"value":"r  = −0.21  p = 0.014"}}}
 ]},
{"width":341,"height":139,"title":{"text":"d","dx":-42},"resolve":{"axis":{"y":"independent"}},
 "layer":[
  {"data":{"name":"sd"},"mark":{"type":"area","color":"#999999","opacity":0.3},
   "encoding":{"x":{"field":"d","type":"quantitative","scale":{"domain":[13.25,183.75],"nice":false,"zero":false},"axis":{"values":[30,60,90,120,150,180],"title":"Days post symptom onset or diagnosis"}},
    "y":{"field":"lo","type":"quantitative","scale":{"type":"log","domain":[2.1,32000],"nice":false},"axis":{"orient":"left","values":[10,100,1000,10000],"labelExpr":"datum.value>=10000?'10⁴':datum.value>=1000?'10³':datum.value>=100?'10²':datum.value>=10?'10¹':'10⁰'","title":"RBD total Ig"}},
    "y2":{"field":"hi"}}},
  {"data":{"name":"d"},"mark":{"type":"circle","size":28,"color":"#000000","opacity":0.4},
   "encoding":{"x":{"field":"d","type":"quantitative"},"y":{"field":"v","type":"quantitative","axis":{"orient":"left","values":[10,100,1000,10000],"labels":false,"domain":false,"title":null,"tickSize":-8}}}},
  {"data":{"name":"sd"},"mark":{"type":"line","color":"#2E86D4","strokeWidth":2.2},
   "encoding":{"x":{"field":"d","type":"quantitative"},"y":{"field":"fit","type":"quantitative","axis":{"orient":"left","values":[5,50,500,5000],"labels":false,"domain":false,"title":null,"tickSize":-5.3}}}},
  {"data":{"values":[{}]},"mark":{"type":"rule","strokeDash":[1.5,3],"color":"#000000"},
   "encoding":{"y":{"datum":20,"type":"quantitative","axis":{"orient":"left","values":[3,4,6,7,8,9,20,30,40,60,70,80,90,200,300,400,600,700,800,900,2000,3000,4000,6000,7000,8000,9000,20000,30000],"labels":false,"domain":false,"title":null,"tickSize":-2.7}}}},
  {"data":{"values":[{}]},"mark":{"type":"text","align":"right","baseline":"middle","fontSize":14},
   "encoding":{"x":{"datum":170.7,"type":"quantitative"},"y":{"datum":14200,"type":"quantitative","axis":null},"text":{"value":"r  = −0.18, p = 0.033"}}}
 ]},
{"width":335,"height":139,"title":{"text":"e","dx":-42},"resolve":{"axis":{"y":"independent"}},
 "layer":[
  {"data":{"name":"se"},"mark":{"type":"area","color":"#999999","opacity":0.3},
   "encoding":{"x":{"field":"d","type":"quantitative","scale":{"domain":[13.25,183.75],"nice":false,"zero":false},"axis":{"values":[30,60,90,120,150,180],"title":"Days post symptom onset or diagnosis"}},
    "y":{"field":"lo","type":"quantitative","scale":{"type":"log","domain":[0.66,30000],"nice":false},"axis":{"orient":"left","values":[1,10,100,1000,10000],"labelExpr":"datum.value>=10000?'10⁴':datum.value>=1000?'10³':datum.value>=100?'10²':datum.value>=10?'10¹':'10⁰'","title":"RBD IgA"}},
    "y2":{"field":"hi"}}},
  {"data":{"name":"e"},"mark":{"type":"circle","size":28,"color":"#000000","opacity":0.4},
   "encoding":{"x":{"field":"d","type":"quantitative"},"y":{"field":"v","type":"quantitative","axis":{"orient":"left","values":[1,10,100,1000,10000],"labels":false,"domain":false,"title":null,"tickSize":-8}}}},
  {"data":{"name":"se"},"mark":{"type":"line","color":"#2E86D4","strokeWidth":2.2},
   "encoding":{"x":{"field":"d","type":"quantitative"},"y":{"field":"fit","type":"quantitative","axis":{"orient":"left","values":[5,50,500,5000],"labels":false,"domain":false,"title":null,"tickSize":-5.3}}}},
  {"data":{"values":[{}]},"mark":{"type":"rule","strokeDash":[1.5,3],"color":"#000000"},
   "encoding":{"y":{"datum":40,"type":"quantitative","axis":{"orient":"left","values":[0.7,0.8,0.9,2,3,4,6,7,8,9,20,30,40,60,70,80,90,200,300,400,600,700,800,900,2000,3000,4000,6000,7000,8000,9000,20000],"labels":false,"domain":false,"title":null,"tickSize":-2.7}}}},
  {"data":{"values":[{}]},"mark":{"type":"text","align":"right","baseline":"middle","fontSize":14},
   "encoding":{"x":{"datum":173.3,"type":"quantitative"},"y":{"datum":15900,"type":"quantitative","axis":null},"text":{"value":"r  = −0.41, p < 0.0001"}}}
 ]},
{"width":341,"height":139,"title":{"text":"f","dx":-42},"resolve":{"axis":{"y":"independent"}},
 "layer":[
  {"data":{"name":"sf"},"mark":{"type":"area","color":"#999999","opacity":0.3},
   "encoding":{"x":{"field":"d","type":"quantitative","scale":{"domain":[13.25,183.75],"nice":false,"zero":false},"axis":{"values":[30,60,90,120,150,180],"title":"Days post symptom onset or diagnosis"}},
    "y":{"field":"lo","type":"quantitative","scale":{"type":"log","domain":[0.65,35000],"nice":false},"axis":{"orient":"left","values":[1,10,100,1000,10000],"labelExpr":"datum.value>=10000?'10⁴':datum.value>=1000?'10³':datum.value>=100?'10²':datum.value>=10?'10¹':'10⁰'","title":"RBD IgM"}},
    "y2":{"field":"hi"}}},
  {"data":{"name":"f"},"mark":{"type":"circle","size":28,"color":"#000000","opacity":0.4},
   "encoding":{"x":{"field":"d","type":"quantitative"},"y":{"field":"v","type":"quantitative","axis":{"orient":"left","values":[1,10,100,1000,10000],"labels":false,"domain":false,"title":null,"tickSize":-8}}}},
  {"data":{"name":"sf"},"mark":{"type":"line","color":"#2E86D4","strokeWidth":2.2},
   "encoding":{"x":{"field":"d","type":"quantitative"},"y":{"field":"fit","type":"quantitative","axis":{"orient":"left","values":[5,50,500,5000],"labels":false,"domain":false,"title":null,"tickSize":-5.3}}}},
  {"data":{"values":[{}]},"mark":{"type":"rule","strokeDash":[1.5,3],"color":"#000000"},
   "encoding":{"y":{"datum":40,"type":"quantitative","axis":{"orient":"left","values":[0.7,0.8,0.9,2,3,4,6,7,8,9,20,30,40,60,70,80,90,200,300,400,600,700,800,900,2000,3000,4000,6000,7000,8000,9000,20000,30000],"labels":false,"domain":false,"title":null,"tickSize":-2.7}}}},
  {"data":{"values":[{}]},"mark":{"type":"text","align":"right","baseline":"middle","fontSize":14},
   "encoding":{"x":{"datum":174.6,"type":"quantitative"},"y":{"datum":14100,"type":"quantitative","axis":null},"text":{"value":"r = −0.39, p < 0.0001"}}}
 ]},
{"width":335,"height":139,"title":{"text":"g","dx":-42},"resolve":{"axis":{"y":"independent"}},
 "layer":[
  {"data":{"name":"sg"},"mark":{"type":"area","color":"#999999","opacity":0.3},
   "encoding":{"x":{"field":"d","type":"quantitative","scale":{"domain":[13.25,183.75],"nice":false,"zero":false},"axis":{"values":[30,60,90,120,150,180],"title":"Days post symptom onset or diagnosis"}},
    "y":{"field":"lo","type":"quantitative","scale":{"domain":[-0.5,10.5],"nice":false,"zero":false},"axis":{"orient":"left","values":[0,2,4,6,8,10],"title":"Nucleocapsid IgG"}},
    "y2":{"field":"hi"}}},
  {"data":{"name":"g"},"mark":{"type":"circle","size":28,"color":"#000000","opacity":0.4},
   "encoding":{"x":{"field":"d","type":"quantitative"},"y":{"field":"v","type":"quantitative","axis":null}}},
  {"data":{"name":"sg"},"mark":{"type":"line","color":"#2E86D4","strokeWidth":2.2},
   "encoding":{"x":{"field":"d","type":"quantitative"},"y":{"field":"fit","type":"quantitative","axis":null}}},
  {"data":{"values":[{}]},"mark":{"type":"rule","strokeDash":[1.5,3],"color":"#000000"},
   "encoding":{"y":{"datum":1.4,"type":"quantitative","axis":null}}},
  {"data":{"values":[{}]},"mark":{"type":"text","align":"right","baseline":"middle","fontSize":14},
   "encoding":{"x":{"datum":177.5,"type":"quantitative"},"y":{"datum":9.6,"type":"quantitative","axis":null},"text":{"value":"r = −0.26, p = 0.003"}}}
 ]}
]
}
